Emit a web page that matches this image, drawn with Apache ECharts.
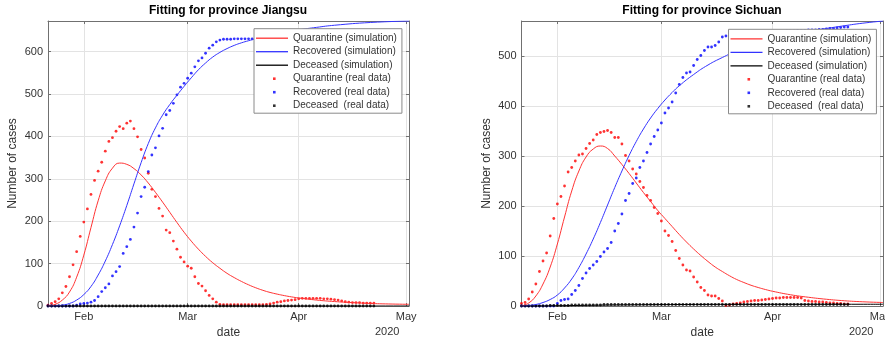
<!DOCTYPE html>
<html>
<head>
<meta charset="utf-8">
<title>Fitting for province Jiangsu / Sichuan</title>
<script src="https://cdn.jsdelivr.net/npm/echarts@6.0.0/dist/echarts.min.js"></script>
<style>
  html, body { margin: 0; padding: 0; background: #fff; }
  #chart { width: 885px; height: 343px; }
</style>
</head>
<body>
<div id="chart"></div>
<script>
// x values are days counted from 22 Jan 2020 (day 10 = 1 Feb)
var monthTickDays = [10, 39, 70, 100];
var monthLabels = ['Feb', 'Mar', 'Apr', 'May'];
var lastDay = 100.8;

var jsYTicks = [0, 100, 200, 300, 400, 500, 600];
var scYTicks = [0, 100, 200, 300, 400, 500];
var jsYMax = 672;
var scYMax = 570;

// ---- Jiangsu, simulation
var jsQuarSimDays = [0, 2, 4, 6, 8, 10, 12, 14, 16, 18, 20, 22, 24, 26, 28, 30, 32, 34, 36, 38, 40, 42, 44, 46, 48, 50, 52, 54, 56, 58, 60, 62, 64, 66, 68, 70, 75, 80, 85, 90, 95, 100.8];
var jsQuarSimVals = [0, 4, 14, 33, 68, 120, 185, 248, 295, 325, 337, 334, 324, 309, 290, 268, 245, 221, 197, 174, 153, 134, 117, 102, 89, 77, 67, 58, 50, 43, 37, 32, 28, 24.5, 21.5, 19, 14, 10.5, 8, 6, 4.8, 4];
var jsRecSimDays = [0, 2, 4, 6, 8, 10, 12, 14, 16, 18, 20, 22, 24, 26, 28, 30, 32, 34, 36, 38, 40, 42, 44, 46, 48, 50, 52, 54, 56, 58, 60, 65, 70, 75, 80, 90, 100.8];
var jsRecSimVals = [0, 0.5, 2, 6, 14, 27, 46, 73, 106, 145, 189, 237, 288, 338, 383, 420, 450, 475, 497, 518, 538, 557, 573, 587, 598, 607, 614.5, 620.5, 625.5, 630, 634, 643, 651, 657, 662, 668.5, 672];
var jsDeadSimDays = [0, 100.8];
var jsDeadSimVals = [0, 0];

// ---- Jiangsu, real data (one value per day, 22 Jan .. 22 Apr)
var jsQuarReal = [
  2, 6, 10, 17, 31, 46, 69, 97, 128, 164,
  198, 229, 263, 296, 318, 339, 365, 388, 397, 412,
  423, 418, 431, 436, 418, 399, 369, 349, 313, 275,
  258, 230, 212, 179, 173, 153, 134, 115, 104, 94,
  89, 69, 53, 47, 36, 25, 17, 9, 4, 3,
  3, 3, 3, 3, 3, 3, 3, 3, 3, 3,
  3, 4, 5, 7, 9, 10, 12, 13, 14, 15,
  17, 18, 18, 18, 18, 18, 18, 17, 17, 16,
  15, 14, 12, 10, 9, 8, 8, 8, 7, 7,
  7, 7
];
var jsRecReal = [
  0, 0, 0, 0, 0, 0, 0, 0, 2, 5,
  6, 7, 9, 13, 22, 34, 43, 52, 71, 81,
  93, 124, 140, 157, 186, 219, 258, 280, 317, 356,
  373, 401, 419, 451, 461, 478, 498, 516, 525, 537,
  549, 564, 578, 585, 596, 608, 615, 623, 627, 629,
  629, 629, 630, 630, 630, 630, 630, 630, 630, 631,
  631, 631, 631, 631, 631, 631, 631, 631, 631, 631,
  631, 631, 631, 631, 631, 631, 631, 631, 631, 631,
  631, 631, 631, 631, 631, 631, 631, 631, 631, 631,
  631, 631
];
var jsDeadReal = [
  0, 0, 0, 0, 0, 0, 0, 0, 0, 0,
  0, 0, 0, 0, 0, 0, 0, 0, 0, 0,
  0, 0, 0, 0, 0, 0, 0, 0, 0, 0,
  0, 0, 0, 0, 0, 0, 0, 0, 0, 0,
  0, 0, 0, 0, 0, 0, 0, 0, 0, 0,
  0, 0, 0, 0, 0, 0, 0, 0, 0, 0,
  0, 0, 0, 0, 0, 0, 0, 0, 0, 0,
  0, 0, 0, 0, 0, 0, 0, 0, 0, 0,
  0, 0, 0, 0, 0, 0, 0, 0, 0, 0,
  0, 0
];

// ---- Sichuan, simulation
var scQuarSimDays = [0, 2, 4, 6, 8, 10, 12, 14, 16, 18, 20, 22, 24, 26, 28, 30, 32, 34, 36, 38, 40, 42, 44, 46, 48, 50, 52, 54, 56, 58, 60, 62, 64, 66, 68, 70, 75, 80, 85, 90, 95, 100.8];
var scQuarSimVals = [0, 6, 20, 44, 78, 124, 178, 230, 270, 298, 314, 320, 315, 300, 283, 265, 246, 227, 209, 191, 175, 159, 143, 128, 114, 101, 89, 78, 69, 60.5, 53, 47, 41.5, 37, 33, 29.5, 22.5, 17.5, 13.5, 10.5, 8.5, 7];
var scRecSimDays = [0, 2, 4, 6, 8, 10, 12, 14, 16, 18, 20, 22, 24, 26, 28, 30, 32, 34, 36, 38, 40, 42, 44, 48, 52, 56, 60, 65, 70, 75, 80, 85, 90, 95, 100.8];
var scRecSimVals = [0, 1, 3, 7, 13, 22, 36, 54, 77, 104, 134, 167, 202, 237, 270, 301, 329, 354, 376, 395, 412, 427, 440.5, 463, 482, 497, 510, 523, 533.5, 542, 549, 555, 560.5, 565.5, 570];
var scDeadSimDays = [0, 10, 20, 30, 45, 60, 100.8];
var scDeadSimVals = [0, 0.5, 1.5, 2.3, 3, 3.3, 3.5];

// ---- Sichuan, real data
var scQuarReal = [
  5, 7, 14, 28, 44, 69, 90, 106, 140, 175,
  204, 219, 240, 268, 277, 290, 302, 304, 315, 325,
  332, 343, 347, 349, 351, 347, 337, 337, 324, 301,
  290, 274, 264, 249, 237, 221, 211, 197, 185, 170,
  150, 141, 129, 111, 95, 82, 72, 70, 58, 48,
  37, 31, 22, 20, 20, 15, 10, 1, 2, 4,
  5, 6, 8, 9, 10, 11, 11, 12, 13, 14,
  15, 16, 16, 17, 17, 17, 17, 17, 16, 11,
  10, 9, 9, 8, 8, 7, 6, 6, 5, 5,
  4, 4
];
var scRecReal = [
  0, 0, 0, 0, 0, 0, 0, 0, 0, 0,
  5, 11, 13, 14, 23, 31, 41, 55, 66, 75,
  82, 89, 99, 108, 115, 127, 150, 165, 184, 211,
  225, 245, 256, 277, 290, 307, 324, 339, 352, 366,
  386, 396, 408, 426, 443, 457, 466, 468, 481, 493,
  501, 511, 518, 518, 521, 528, 538, 540, 541, 542,
  543, 543, 544, 544, 545, 545, 546, 546, 547, 547,
  548, 548, 549, 549, 550, 550, 550, 551, 551, 551,
  552, 552, 552, 553, 553, 554, 555, 555, 556, 557,
  558, 558
];
var scDeadReal = [
  0, 0, 0, 0, 0, 0, 0, 0, 1, 1,
  1, 1, 1, 1, 2, 2, 2, 2, 2, 2,
  2, 2, 2, 3, 3, 3, 3, 3, 3, 3,
  3, 3, 3, 3, 3, 3, 3, 3, 3, 3,
  3, 3, 3, 3, 3, 3, 3, 3, 3, 3,
  3, 3, 3, 3, 3, 3, 3, 3, 3, 3,
  3, 3, 3, 3, 3, 3, 3, 3, 3, 3,
  3, 3, 3, 3, 3, 3, 3, 3, 3, 3,
  3, 3, 3, 3, 3, 3, 3, 3, 3, 3,
  3, 3
];

var font = "'Liberation Sans', Arial, Helvetica, sans-serif";
var axisGray = '#707070';
var textGray = '#333333';
var gridGray = '#e3e3e3';
var simNames = ['Quarantine (simulation)', 'Recovered (simulation)', 'Deceased (simulation)'];
var realNames = ['Quarantine (real data)', 'Recovered (real data)', 'Deceased  (real data)'];
var lineColors = ['#ff3333', '#3333ff', '#000000'];
var dotColors = ['#ff0000', '#0000ff', '#000000'];
// small dot in the middle of a 32x3 legend slot (the two moveTo points only set the box)
var dotIcon = 'path://M0,0M32,3M17,0.2h2.6v2.6h-2.6z';

function toPairs(days, vals) {
  return days.map(function (d, i) { return [d, vals[i]]; });
}
function dailyPairs(vals) {
  return vals.map(function (v, i) { return [i, v]; });
}

function plotSeries(k, sims, reals) {
  var out = [];
  sims.forEach(function (s, i) {
    out.push({
      name: simNames[i], type: 'line', xAxisIndex: 2 * k, yAxisIndex: 2 * k,
      data: toPairs(s[0], s[1]), smooth: 0.5,
      symbol: 'none', color: lineColors[i],
      lineStyle: { width: 1, color: lineColors[i] }, silent: true
    });
  });
  reals.forEach(function (r, i) {
    out.push({
      name: realNames[i], type: 'scatter', xAxisIndex: 2 * k, yAxisIndex: 2 * k,
      data: dailyPairs(r), symbol: 'circle', symbolSize: 2.8,
      color: dotColors[i], itemStyle: { color: dotColors[i] }, silent: true
    });
  });
  return out;
}

function xAxes(k) {
  var line = { show: true, onZero: false, lineStyle: { color: axisGray } };
  var tick = { show: true, inside: true, length: 3, customValues: monthTickDays, lineStyle: { color: axisGray } };
  return [{
    gridIndex: k, type: 'value', position: 'bottom', min: 0, max: lastDay,
    axisLine: line, axisTick: tick,
    axisLabel: {
      customValues: monthTickDays, margin: 5, fontSize: 11, color: textGray, fontFamily: font,
      formatter: function (v) { return monthLabels[monthTickDays.indexOf(v)]; }
    },
    splitLine: { show: true, lineStyle: { color: gridGray } },
    name: 'date', nameLocation: 'middle', nameGap: 21,
    nameTextStyle: { fontSize: 12, color: textGray, fontFamily: font }
  }, {
    gridIndex: k, type: 'value', position: 'top', min: 0, max: lastDay,
    axisLine: line, axisTick: tick, axisLabel: { show: false }, splitLine: { show: false }
  }];
}

function yAxes(k, yMax, ticks) {
  var line = { show: true, onZero: false, lineStyle: { color: axisGray } };
  var tick = { show: true, inside: true, length: 3, customValues: ticks, lineStyle: { color: axisGray } };
  return [{
    gridIndex: k, type: 'value', position: 'left', min: 0, max: yMax,
    axisLine: line, axisTick: tick,
    axisLabel: { customValues: ticks, margin: 5, fontSize: 11, color: textGray, fontFamily: font },
    splitLine: { show: true, lineStyle: { color: gridGray } },
    name: 'Number of cases', nameLocation: 'middle', nameGap: 29,
    nameTextStyle: { fontSize: 12, color: textGray, fontFamily: font }
  }, {
    gridIndex: k, type: 'value', position: 'right', min: 0, max: yMax,
    axisLine: line, axisTick: tick, axisLabel: { show: false }, splitLine: { show: false }
  }];
}

function legends(boxLeft, boxTop) {
  var txt = { fontSize: 10, color: textGray, fontFamily: font };
  return [{
    left: boxLeft, top: boxTop, orient: 'vertical', padding: [4.5, 5, 43, 2],
    itemWidth: 32, itemHeight: 1.3, itemGap: 3.5, icon: 'rect',
    data: simNames, selectedMode: false, textStyle: txt,
    backgroundColor: '#ffffff', borderColor: '#8a8a8a', borderWidth: 1, z: 4
  }, {
    left: boxLeft + 2, top: boxTop + 4.5 + 3 * 13.5, orient: 'vertical', padding: 0,
    itemWidth: 32, itemHeight: 3, itemGap: 3.5, icon: dotIcon,
    data: realNames, selectedMode: false, textStyle: txt, z: 5
  }];
}

var chart = echarts.init(document.getElementById('chart'), null, { renderer: 'canvas' });
chart.setOption({
  animation: false,
  backgroundColor: '#ffffff',
  title: [
    { text: 'Fitting for province Jiangsu', left: 228, top: 5, textAlign: 'center', padding: 0,
      textStyle: { fontSize: 12, fontWeight: 'bold', color: '#000', fontFamily: font } },
    { text: 'Fitting for province Sichuan', left: 702, top: 5, textAlign: 'center', padding: 0,
      textStyle: { fontSize: 12, fontWeight: 'bold', color: '#000', fontFamily: font } }
  ],
  grid: [
    { left: 48, right: 476, top: 21, bottom: 37, outerBoundsMode: 'none' },
    { left: 521.5, right: 2, top: 21, bottom: 37, outerBoundsMode: 'none' }
  ],
  xAxis: xAxes(0).concat(xAxes(1)),
  yAxis: yAxes(0, jsYMax, jsYTicks).concat(yAxes(1, scYMax, scYTicks)),
  legend: legends(254, 28.7).concat(legends(728.5, 29.3)),
  graphic: [
    { type: 'text', left: 375, top: 326, style: { text: '2020', fontSize: 11, fill: textGray, fontFamily: font } },
    { type: 'text', left: 849, top: 326, style: { text: '2020', fontSize: 11, fill: textGray, fontFamily: font } }
  ],
  series: plotSeries(0,
      [[jsQuarSimDays, jsQuarSimVals], [jsRecSimDays, jsRecSimVals], [jsDeadSimDays, jsDeadSimVals]],
      [jsQuarReal, jsRecReal, jsDeadReal])
    .concat(plotSeries(1,
      [[scQuarSimDays, scQuarSimVals], [scRecSimDays, scRecSimVals], [scDeadSimDays, scDeadSimVals]],
      [scQuarReal, scRecReal, scDeadReal]))
});
</script>
</body>
</html>
